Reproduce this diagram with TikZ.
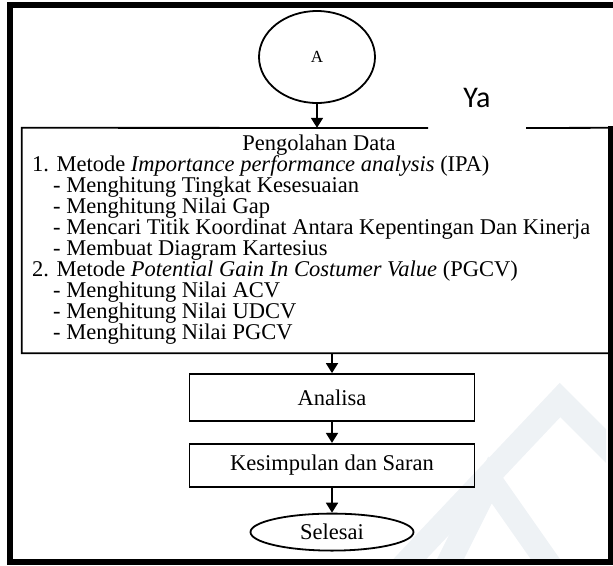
\documentclass[tikz,border=0pt]{standalone}
\usepackage{fontspec}
\setmainfont{Liberation Serif}
\newfontfamily\yafont{Carlito}
\usetikzlibrary{positioning, shapes.geometric, arrows.meta}
\definecolor{pudar}{HTML}{EEF2F5}
\newcommand{\teks}{\fontsize{22.5}{21}\selectfont}
\tikzset{
  garis/.style={line width=1.8pt},
  proses/.style={draw, garis, rectangle, minimum width=285pt, inner sep=0pt, font=\teks},
  terminal/.style={draw, garis, ellipse, inner sep=0pt, font=\teks},
  panah/.style={garis, -{Triangle[width=12pt, length=10pt]}},
  baris/.style={anchor=base west, inner sep=0pt, font=\teks},
  bingkai/.style={line width=6pt},
  latar/.style={draw=pudar, line width=24pt, line join=miter}
}

\begin{document}
\begin{tikzpicture}[x=1pt, y=-1pt]
  \useasboundingbox (0,0) rectangle (613,565);
  % tanda air samar
  \begin{scope}
    \clip (14,356) rectangle (606,558);
    \draw[latar] (390,580) -- (560,400) -- (640,480);
    \draw[latar] (440,580) -- (490,480) -- (560,580);
  \end{scope}
  % bingkai luar
  \draw[bingkai] (613,5) -- (10,5) -- (10,562) -- (611,562) -- (611,126);

  \node[terminal, minimum width=116pt, minimum height=92pt, font=\fontsize{17}{17}\selectfont] (mulai) at (317,57) {A};

  % kotak pengolahan data
  \node[rectangle, minimum width=588pt, minimum height=225pt, inner sep=0pt] (olah) at (316,240.5) {};
  \coordinate (celahkiri) at (428,128);
  \coordinate (celahkanan) at (526,128);
  \draw[garis] (celahkiri) -- (olah.north west) -- (olah.south west) -- (olah.south east) -- (olah.north east) -- (celahkanan);
  \node[font={\yafont\fontsize{30}{30}\selectfont}, anchor=base, inner sep=0pt] (ya) at (477,107) {Ya};

  \node[font=\teks, anchor=base, inner sep=0pt] (judul) at (319,150) {Pengolahan Data};
  \foreach \x/\isi [count=\i] in {
    32/{1. Metode \textit{Importance performance analysis} (IPA)},
    53/{- Menghitung Tingkat Kesesuaian},
    53/{- Menghitung Nilai Gap},
    53/{- Mencari Titik Koordinat Antara Kepentingan Dan Kinerja},
    53/{- Membuat Diagram Kartesius},
    32/{2. Metode \textit{Potential Gain In Costumer Value} (PGCV)},
    53/{- Menghitung Nilai ACV},
    53/{- Menghitung Nilai UDCV},
    53/{- Menghitung Nilai PGCV}}
    \node[baris] (baris\i) at (\x,{150+21*\i}) {\isi};

  \node[proses, minimum height=47pt] (analisa) at (332,397.5) {Analisa};
  \node[proses, minimum height=43pt, below=21pt of analisa] (simpulan) {Kesimpulan dan Saran};
  \node[terminal, minimum width=163pt, minimum height=37pt, below=25pt of simpulan] (selesai) {Selesai};

  \draw[panah] (mulai) -- (mulai |- olah.north);
  \draw[panah] (olah.south -| analisa) -- (analisa);
  \draw[panah] (analisa) -- (simpulan);
  \draw[panah] (simpulan) -- (selesai);
\end{tikzpicture}
\end{document}
